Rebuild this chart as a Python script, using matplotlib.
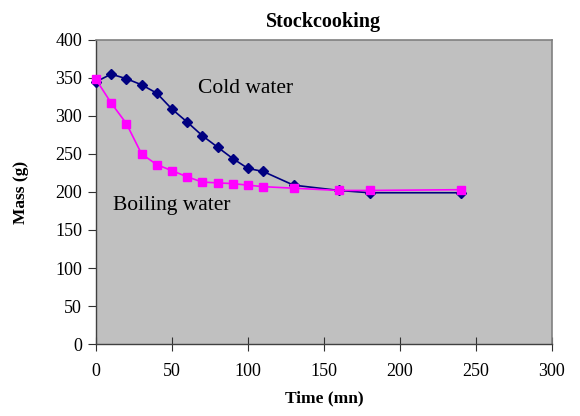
import matplotlib.pyplot as plt

# Stock cooking: mass of the pot over time
time_mn = [0, 10, 20, 30, 40, 50, 60, 70, 80, 90, 100, 110, 130, 160, 180, 240]
cold_water = [345, 355, 349, 341, 330, 309, 292, 274, 259, 244, 231, 227, 209, 202, 199, 199]
boiling_water = [348, 317, 290, 250, 236, 228, 220, 213, 212, 211, 209, 207, 205, 202, 202, 203]

plt.rcParams['font.family'] = ['Liberation Serif', 'DejaVu Serif']

fig = plt.figure(figsize=(5.8, 4.16), dpi=100)
ax = fig.add_axes([0.1655, 0.173, 0.786, 0.731])
ax.set_facecolor('#c0c0c0')

ax.plot(time_mn, cold_water, color='#000080', marker='D', markersize=5.5,
        linewidth=1.2, clip_on=False, zorder=3)
ax.plot(time_mn, boiling_water, color='#ff00ff', marker='s', markersize=6,
        linewidth=1.2, clip_on=False, zorder=4)

ax.text(67, 336, 'Cold water', fontsize=15.5, va='center', ha='left')
ax.text(11, 182, 'Boiling water', fontsize=15.5, va='center', ha='left')

ax.set_xlim(0, 300)
ax.set_ylim(0, 400)
ax.set_xticks(range(0, 301, 50))
ax.set_yticks(range(0, 401, 50))
ax.tick_params(axis='x', direction='inout', length=10, labelsize=13, pad=9, colors='#303030', labelcolor='black')
ax.tick_params(axis='y', direction='out', length=6, labelsize=13, pad=4, colors='#303030', labelcolor='black')

for side in ['left', 'bottom']:
    ax.spines[side].set_color('#404040')
    ax.spines[side].set_linewidth(1.0)
for side in ['top', 'right']:
    ax.spines[side].set_color('#808080')
    ax.spines[side].set_linewidth(1.2)

ax.set_title('Stockcooking', fontsize=14.5, fontweight='bold', pad=9)
ax.set_xlabel('Time (mn)', fontsize=12.5, fontweight='bold', labelpad=7)
ax.set_ylabel('Mass (g)', fontsize=12.5, fontweight='bold', labelpad=19)

fig.savefig('out.png', dpi=100)
